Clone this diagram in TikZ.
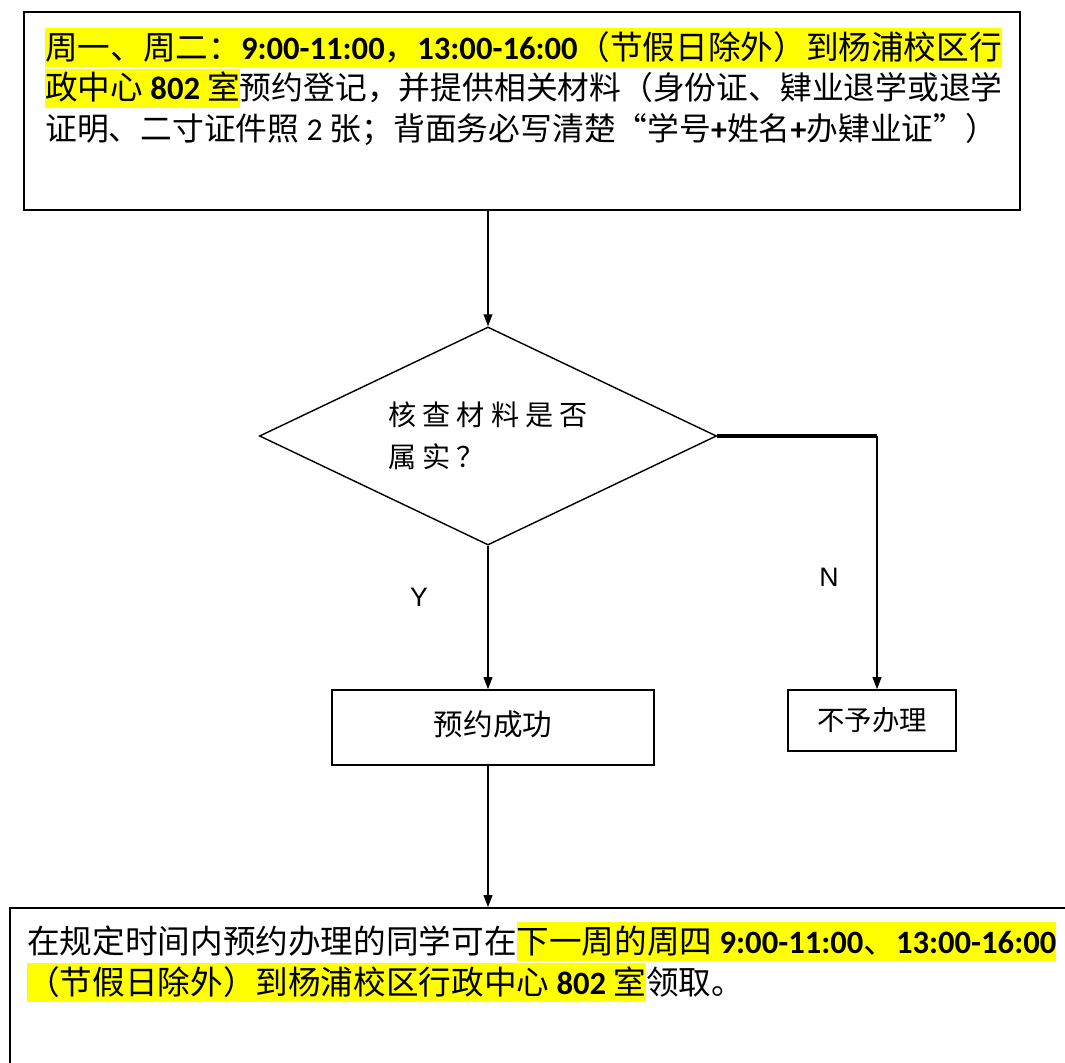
\documentclass[tikz,border=0pt]{standalone}
\usepackage{fontspec}
\setmainfont{Noto Sans CJK SC}
\newfontfamily\lat{Carlito}
\newfontfamily\yn{Liberation Sans}
\usetikzlibrary{arrows.meta,shapes.geometric,positioning}
\definecolor{gelb}{RGB}{255,255,0}
% Textmarker wie in Word
\newcommand\markgelb[1]{{\setlength{\fboxsep}{0pt}\colorbox{gelb}{\rule[-5.5pt]{0pt}{27.5pt}#1}}}
\newcommand\fett[1]{{\lat\bfseries #1}}
\newcommand\duenn[1]{{\fontsize{22.6}{29}\selectfont #1}}

\begin{document}
\begin{tikzpicture}[x=0.025cm,y=-0.025cm,
  kasten/.style={draw,line width=1.1pt,inner sep=0pt},
  pfeil/.style={line width=1pt,-{Triangle[length=3mm,width=2.2mm]}},
  fliess/.style={font=\fontsize{23.2}{29}\selectfont,align=left,inner sep=0pt,anchor=north west}]
\useasboundingbox (0,0) rectangle (1065,1063);
%Kaesten (Masse in Pixel -> cm mit Faktor 0.025)
\node[kasten,minimum width=24.9cm,minimum height=4.95cm] (reg) at (522,111) {};
\node[kasten,diamond,aspect=2.1,line width=1pt,minimum width=11.425cm,minimum height=5.45cm,
      align=left,font=\fontsize{20}{30}\selectfont\addfontfeature{LetterSpace=22}] (chk) at (488,436)
      {核查材料是否\\属实？};
\node[kasten,minimum width=8.05cm,minimum height=1.875cm,font=\fontsize{21}{21}\selectfont,
      text height=19pt,text depth=7pt] (ok) at (493,727.5) {预约成功};
\node[kasten,minimum width=4.2cm,minimum height=1.525cm,font=\fontsize{19.5}{19.5}\selectfont] (no) at (872,720.5) {不予办理};
\node[kasten,minimum width=27cm,minimum height=5.3cm] (pick) at (550,1014) {};
%Texte in den grossen Kaesten
\node[fliess] (regtxt) at (45,28) {%
\markgelb{周一、周二：\fett{9:00-11:00}，\fett{13:00-16:00}（节假日除外）到杨浦校区行}\\
\markgelb{政中心 \fett{802} 室}\duenn{预约登记，并提供相关材料（身份证、肄业退学或退学}\\
\duenn{证明、二寸证件照 {\lat 2} 张；背面务必写清楚“学号\fett{+}姓名\fett{+}办肄业证”）}};
\node[fliess] (picktxt) at (27,922) {%
在规定时间内预约办理的同学可在\markgelb{下一周的周四 \fett{9:00-11:00}、\fett{13:00-16:00}}\\
\markgelb{（节假日除外）到杨浦校区行政中心 \fett{802} 室}领取。};
%Verbindungen
\coordinate (nturn) at (877,436);
\draw[pfeil] (reg.south -| chk.north) -- (chk.north);
\draw[pfeil] (chk.south) -- (chk.south |- ok.north);
\draw[line width=2.6pt] (chk.east) -- (nturn);
\draw[pfeil] (nturn) -- (nturn |- no.north);
\draw[pfeil] (ok.south -| chk.south) -- (chk.south |- pick.north);
\node[font=\yn\fontsize{19}{19}\selectfont] (ylab) at (419,597) {Y};
\node[font=\yn\fontsize{19}{19}\selectfont] (nlab) at (829,577) {N};
\end{tikzpicture}
\end{document}
